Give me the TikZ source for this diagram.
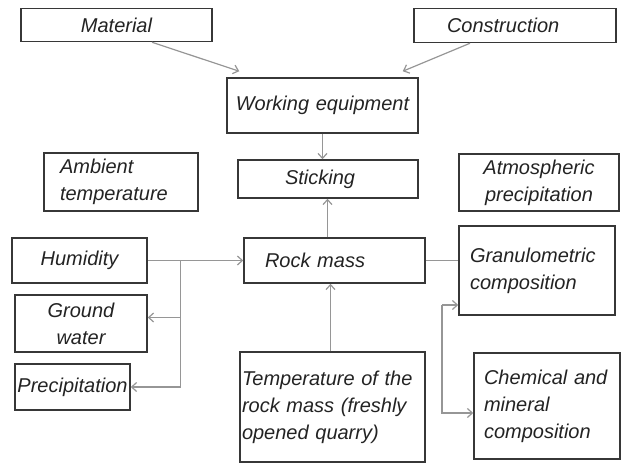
\documentclass[tikz,border=0pt]{standalone}
\usepackage{fontspec}
\setmainfont{Liberation Sans}
\usetikzlibrary{arrows.meta}
\definecolor{boxgray}{RGB}{55,55,55}
\definecolor{arrgray}{RGB}{150,150,150}
\definecolor{txtgray}{RGB}{35,35,35}
\begin{document}
\begin{tikzpicture}[x=1pt, y=-1pt, >={Straight Barb[length=5pt,width=9pt]},
	box/.style={draw=boxgray, line width=1.5pt, inner xsep=8pt, inner ysep=0pt, align=center,
		text=txtgray, font=\itshape\fontsize{20}{27}\selectfont},
	con/.style={arrgray, line width=1.2pt, ->},
	link/.style={arrgray, line width=1.2pt}]
	\useasboundingbox (0,0) rectangle (622,463);

	\node[box, text width=175pt, minimum height=33pt] (mat) at (116.5,25) {Material};
	\node[box, text width=136pt, inner xsep=33pt, align=left, minimum height=34pt] (cons) at (515,25.5) {Construction};
	\node[box, text width=175pt, minimum height=55pt] (work) at (322.5,105.5) {Working equipment};
	\node[box, text width=86pt, inner xsep=47pt, align=left, minimum height=38pt] (stick) at (328,179) {Sticking};
	\node[box, text width=122pt, inner xsep=16pt, align=left, minimum height=58pt] (amb) at (121,182) {Ambient\\temperature};
	\node[box, text width=144pt, minimum height=57pt] (atm) at (539,182.5) {Atmospheric\\precipitation};
	\node[box, text width=119pt, minimum height=45pt] (hum) at (79.5,260.5) {Humidity};
	\node[box, text width=139pt, inner xsep=21pt, align=left, minimum height=45pt] (rock) at (334.5,260.5) {Rock mass};
	\node[box, text width=134pt, inner xsep=11pt, align=left, minimum height=89pt] (gran) at (537,270.5) {Granulometric\\composition};
	\node[box, text width=116pt, minimum height=57pt] (gw) at (81,323.5) {Ground\\water};
	\node[box, text width=111pt, inner xsep=2pt, minimum height=46pt] (prec) at (72.5,387) {Precipitation};
	\node[box, text width=181pt, inner xsep=2pt, align=left, minimum height=110pt] (temp) at (332.5,407) {Temperature of the\\rock mass (freshly\\opened quarry)};
	\node[box, text width=126pt, inner xsep=10pt, align=left, minimum height=106pt] (chem) at (547,406) {Chemical and\\mineral\\composition};

	\draw[con] ([xshift=35.5pt]mat.south) -- ([xshift=13pt, yshift=6pt]work.north west);
	\draw[con] ([xshift=-45pt]cons.south) -- ([xshift=-16pt, yshift=6pt]work.north east);
	\draw[con] (work) -- (work |- stick.north);
	\draw[con] ([xshift=-7pt]rock.north) -- ([xshift=-7pt]rock.north |- stick.south);
	\draw[con] ([xshift=-2pt]temp.north) -- ([xshift=-2pt]temp.north |- rock.south);

	\draw[con] (hum) -- (rock);
	\coordinate (j) at ([xshift=33pt]hum.east);
	\draw[con] (j) |- (prec);
	\draw[con] ([yshift=6pt]gw.east -| j) -- ([yshift=6pt]gw.east);

	\draw[link] (rock) -- (rock -| gran.west);
	\coordinate (b) at (442,305);
	\draw[con] (b) -- (b -| gran.west);
	\draw[con] (b) |- ([yshift=-7pt]chem.west);

\end{tikzpicture}
\end{document}
